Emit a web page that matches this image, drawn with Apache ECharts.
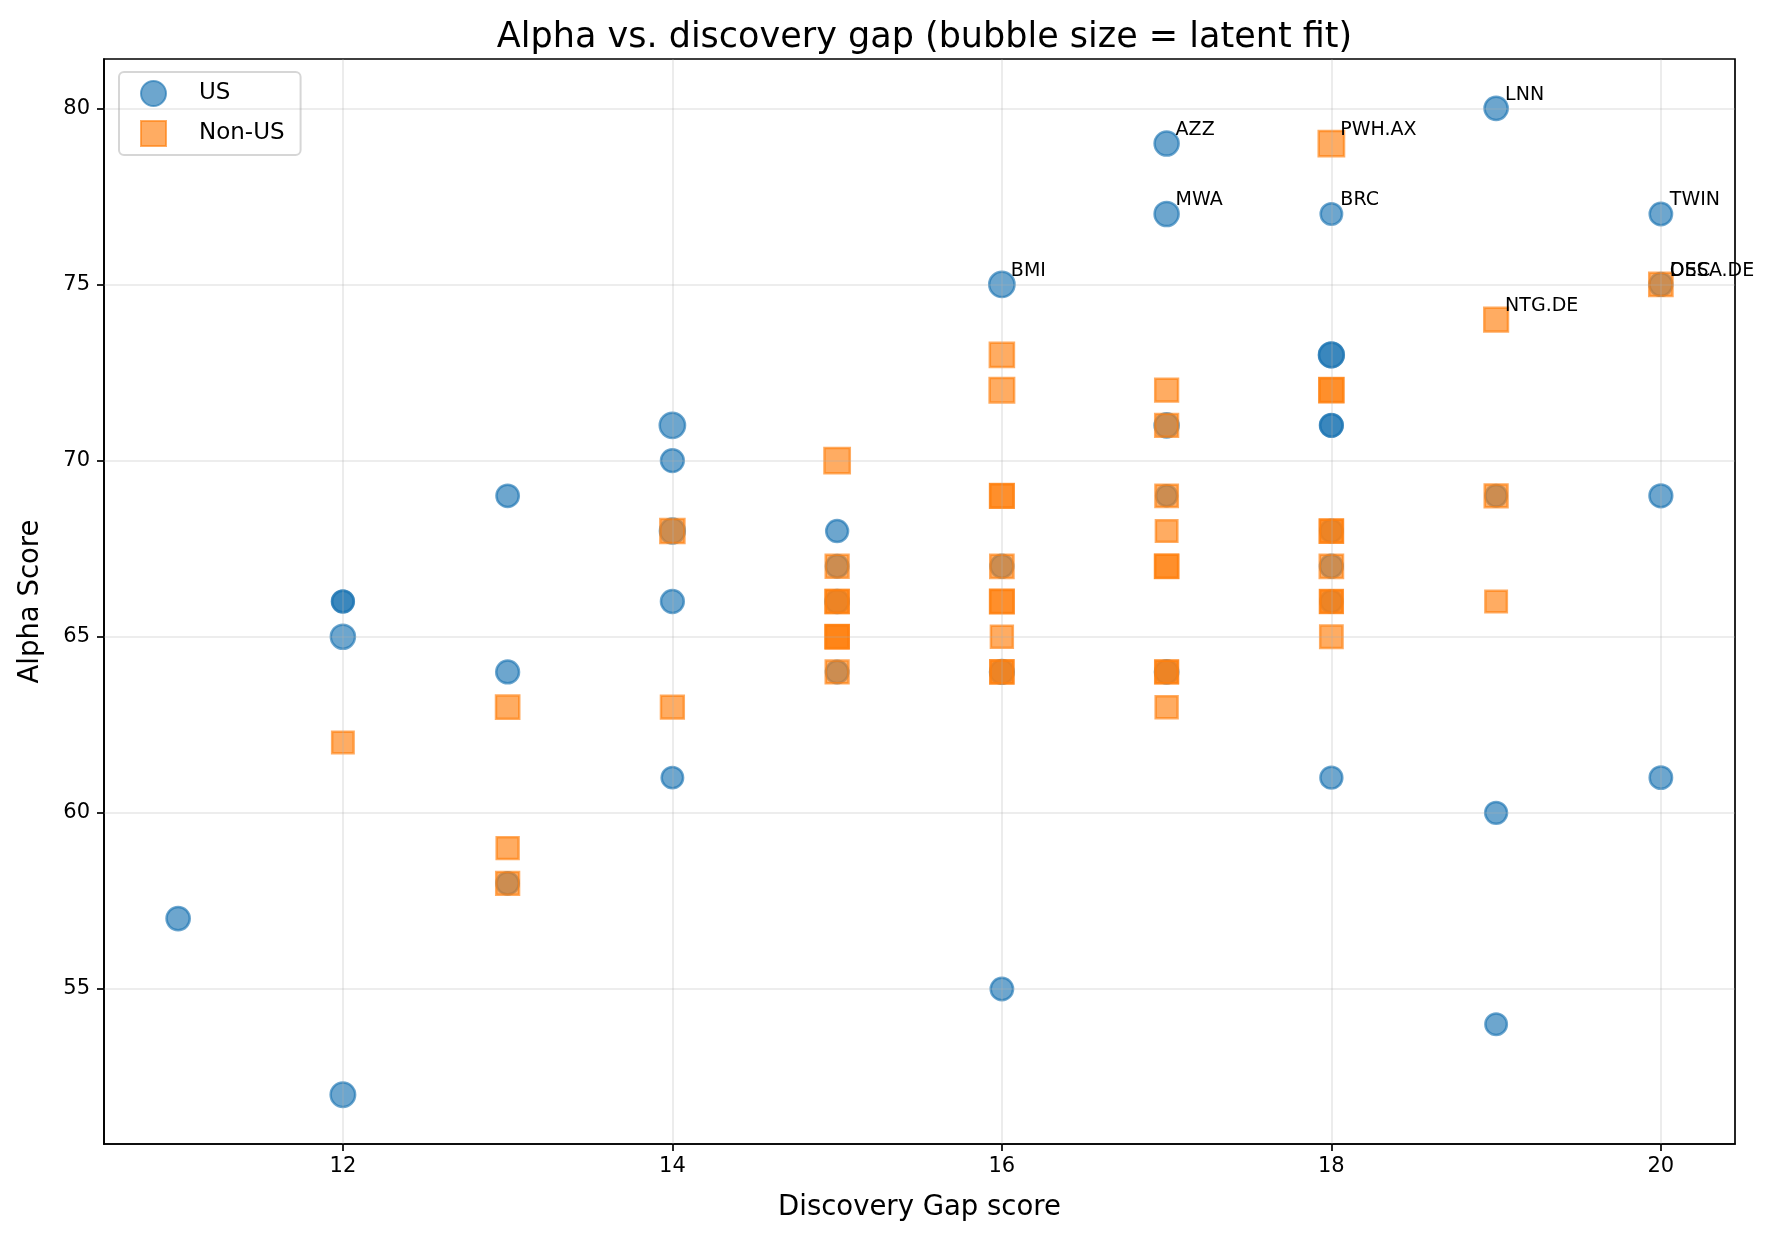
<!DOCTYPE html>
<html>
<head>
<meta charset="utf-8">
<title>Alpha vs. discovery gap</title>
<script src="https://cdn.jsdelivr.net/npm/echarts@6/dist/echarts.min.js"></script>
<style>
  html, body { margin: 0; padding: 0; background: #fff; }
  #chart { width: 1772px; height: 1241px; }
</style>
</head>
<body>
<div id="chart"></div>
<script>
// US names
const usGap = [11, 12, 12, 12, 12, 13, 13, 13, 14, 14, 14, 14, 14, 15, 15, 15, 15, 16, 16, 16, 16,
  17, 17, 17, 17, 17, 18, 18, 18, 18, 18, 18, 18, 18, 18, 19, 19, 19, 19, 20, 20, 20, 20];
const usAlpha = [57, 66, 66, 65, 52, 69, 64, 58, 71, 70, 68, 66, 61, 68, 67, 66, 64, 75, 67, 64, 55,
  79, 77, 71, 69, 64, 77, 73, 73, 71, 71, 68, 67, 66, 61, 80, 69, 60, 54, 77, 75, 69, 61];
const usFit = [0.5, 0.3, 0.35, 0.6, 0.65, 0.4, 0.45, 0.4, 0.75, 0.45, 0.7, 0.45, 0.3, 0.35, 0.4, 0.5, 0.4, 0.75, 0.45, 0.55, 0.4,
  0.6, 0.6, 0.6, 0.25, 0.5, 0.3, 0.7, 0.65, 0.4, 0.45, 0.4, 0.45, 0.35, 0.35, 0.5, 0.3, 0.35, 0.3, 0.4, 0.45, 0.45, 0.4];
const usTicker = ['', '', '', '', '', '', '', '', '', '', '', '', '', '', '', '', '', 'BMI', '', '', '',
  'AZZ', 'MWA', '', '', '', 'BRC', '', '', '', '', '', '', '', '', 'LNN', '', '', '', 'TWIN', 'OSC', '', ''];

// Non-US names
const nonUsGap = [12, 13, 13, 13, 14, 14, 15, 15, 15, 15, 15, 15, 15, 15, 16, 16, 16, 16, 16, 16, 16, 16, 16, 16,
  17, 17, 17, 17, 17, 17, 17, 17, 17, 18, 18, 18, 18, 18, 18, 18, 18, 18, 19, 19, 19, 20];
const nonUsAlpha = [62, 63, 59, 58, 68, 63, 70, 67, 66, 66, 65, 65, 65, 64, 73, 72, 69, 69, 67, 66, 66, 65, 64, 64,
  72, 71, 69, 68, 67, 67, 64, 64, 63, 79, 72, 72, 68, 68, 67, 66, 66, 65, 74, 69, 66, 75];
const nonUsFit = [0.3, 0.5, 0.35, 0.45, 0.6, 0.45, 0.75, 0.45, 0.5, 0.45, 0.5, 0.45, 0.4, 0.45, 0.6, 0.65, 0.55, 0.5, 0.5, 0.55, 0.5, 0.35, 0.5, 0.45,
  0.45, 0.45, 0.4, 0.3, 0.5, 0.45, 0.45, 0.4, 0.35, 0.75, 0.6, 0.55, 0.5, 0.45, 0.5, 0.45, 0.4, 0.4, 0.55, 0.45, 0.3, 0.5];
const nonUsTicker = ['', '', '', '', '', '', '', '', '', '', '', '', '', '', '', '', '', '', '', '', '', '', '', '',
  '', '', '', '', '', '', '', '', '', 'PWH.AX', '', '', '', '', '', '', '', '', 'NTG.DE', '', '', 'DESA.DE'];

// 刻度
const xTicks = [12, 14, 16, 18, 20];
const yTicks = [55, 60, 65, 70, 75, 80];

const FONT = 'DejaVu Sans';
const US_COLOR = 'rgba(31, 119, 180, 0.65)';
const NON_US_COLOR = 'rgba(255, 127, 14, 0.65)';

// 拼装散点数据
function buildData(gap, alpha, fit, ticker) {
  return gap.map((g, i) => ({ value: [g, alpha[i], fit[i]], name: ticker[i] }));
}

// 气泡大小 = latent fit
function bubbleSize(val) {
  return Math.sqrt(440 + 445 * val[2]) - 2.5;
}

const pointLabel = {
  show: true,
  position: 'inside',
  align: 'left',
  verticalAlign: 'bottom',
  offset: [9, -4],
  formatter: p => p.name,
  color: '#000',
  fontSize: 19,
  fontFamily: FONT
};

const chart = echarts.init(document.getElementById('chart'), null, { renderer: 'canvas' });

const option = {
  animation: false,
  backgroundColor: '#fff',
  title: {
    text: 'Alpha vs. discovery gap (bubble size = latent fit)',
    left: 919.5,
    top: 15,
    textAlign: 'center',
    textStyle: { fontSize: 35, fontWeight: 'normal', color: '#000', fontFamily: FONT }
  },
  legend: {
    data: ['US', 'Non-US'],
    orient: 'vertical',
    left: 119,
    top: 72,
    padding: [8, 16, 8, 21],
    itemGap: 13,
    itemWidth: 25,
    itemHeight: 25,
    backgroundColor: '#fff',
    borderColor: '#d6d6d6',
    borderWidth: 2,
    borderRadius: 5,
    textStyle: { fontSize: 23, color: '#000', fontFamily: FONT, padding: [0, 0, 0, 28] }
  },
  grid: {
    left: 104,
    right: 37,
    top: 59,
    bottom: 97,
    show: true,
    borderColor: '#000',
    borderWidth: 1.7,
    backgroundColor: 'transparent'
  },
  xAxis: {
    type: 'value',
    min: 10.55,
    max: 20.45,
    name: 'Discovery Gap score',
    nameLocation: 'middle',
    nameGap: 50,
    nameTextStyle: { fontSize: 27.5, color: '#000', fontFamily: FONT },
    axisLine: { onZero: false, lineStyle: { color: '#000', width: 1.7 } },
    axisTick: { customValues: xTicks, length: 7, lineStyle: { color: '#000', width: 1.7 } },
    axisLabel: { customValues: xTicks, fontSize: 21, color: '#000', fontFamily: FONT, margin: 12 },
    splitLine: { show: false }
  },
  yAxis: {
    type: 'value',
    min: 50.6,
    max: 81.4,
    name: 'Alpha Score',
    nameLocation: 'middle',
    nameGap: 59,
    nameTextStyle: { fontSize: 27.5, color: '#000', fontFamily: FONT },
    axisLine: { onZero: false, lineStyle: { color: '#000', width: 1.7 } },
    axisTick: { customValues: yTicks, length: 7, lineStyle: { color: '#000', width: 1.7 } },
    axisLabel: { customValues: yTicks, fontSize: 21, color: '#000', fontFamily: FONT, margin: 14 },
    splitLine: { show: false }
  },
  series: [
    {
      name: 'US',
      type: 'scatter',
      symbol: 'circle',
      symbolSize: bubbleSize,
      data: buildData(usGap, usAlpha, usFit, usTicker),
      itemStyle: { color: US_COLOR, borderColor: US_COLOR, borderWidth: 2.5, opacity: 1 },
      label: pointLabel,
      emphasis: { disabled: true }
    },
    {
      name: 'Non-US',
      type: 'scatter',
      symbol: 'rect',
      symbolSize: bubbleSize,
      data: buildData(nonUsGap, nonUsAlpha, nonUsFit, nonUsTicker),
      itemStyle: { color: NON_US_COLOR, borderColor: NON_US_COLOR, borderWidth: 2.5, opacity: 1 },
      label: pointLabel,
      emphasis: { disabled: true }
    },
    {
      // 网格线（matplotlib 中网格线画在点的上面）
      name: 'grid',
      type: 'scatter',
      data: [],
      z: 5,
      markLine: {
        silent: true,
        symbol: 'none',
        label: { show: false },
        lineStyle: { color: '#b0b0b0', opacity: 0.3, width: 1.6, type: 'solid' },
        data: [
          ...xTicks.map(v => ({ xAxis: v })),
          ...yTicks.map(v => ({ yAxis: v }))
        ]
      }
    }
  ]
};

chart.setOption(option);
</script>
</body>
</html>
